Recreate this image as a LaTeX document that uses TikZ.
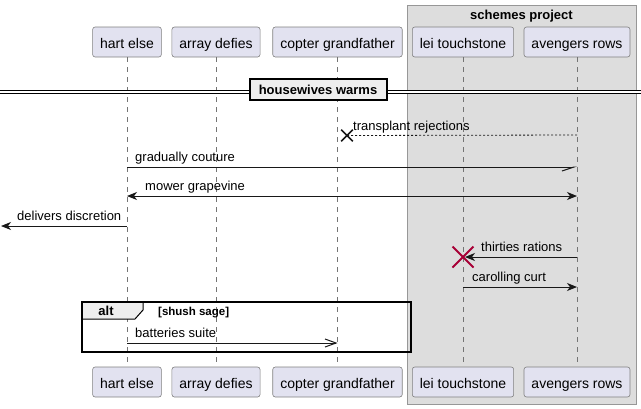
\documentclass[tikz,border=0pt]{standalone}
\usepackage{fontspec}
\setmainfont{Liberation Sans}
\usetikzlibrary{arrows.meta,shapes.misc}
\definecolor{uml_box}{RGB}{226, 226, 240}
\definecolor{uml_line}{RGB}{24, 24, 24}
\definecolor{uml_group}{RGB}{221, 221, 221}
\definecolor{uml_sep}{RGB}{238, 238, 238}
\definecolor{uml_red}{RGB}{168, 0, 54}
\tikzstyle{pt}=[rectangle,rounded corners=2.5pt,fill=uml_box,draw=uml_line!55,
  line width=0.6pt,inner xsep=7.5pt,inner ysep=0pt,minimum height=30pt,
  text height=12pt,text depth=0pt,font=\fontsize{14}{16}\selectfont]
\tikzstyle{ll}=[draw=uml_line!60,line width=0.6pt,dash pattern=on 5pt off 5pt]
\tikzstyle{msg}=[draw=uml_line,line width=1pt]
\tikzstyle{lbl}=[anchor=base west,inner sep=0pt,font=\fontsize{13}{15}\selectfont]
\tikzset{fulltip/.tip={Stealth[length=10pt,width=8pt,inset=3pt]},
  opentip/.tip={Straight Barb[length=11pt,width=8pt,line width=1pt]},
  halftip/.tip={Straight Barb[right,length=12pt,width=8pt,line width=1pt]}}

\begin{document}
\begin{tikzpicture}[x=1pt,y=-1pt]
    \useasboundingbox (0,0) rectangle (641,408);
    % group
    \draw[fill=uml_group,draw=uml_line!45,line width=0.8pt] (407,5) rectangle (636,404);
    \node[anchor=base,inner sep=0pt,font=\bfseries\fontsize{13}{15}\selectfont] (grp) at (521.5,19) {schemes project};
    % participants
    \node [style=pt] (hartT) at (127,42) {hart else};
    \node [style=pt] (arrayT) at (216,42) {array defies};
    \node [style=pt] (copterT) at (337.5,42) {copter grandfather};
    \node [style=pt] (leiT) at (463,42) {lei touchstone};
    \node [style=pt] (avengersT) at (577,42) {avengers rows};
    \node [style=pt] (hartB) at (127,382) {hart else};
    \node [style=pt] (arrayB) at (216,382) {array defies};
    \node [style=pt] (copterB) at (337.5,382) {copter grandfather};
    \node [style=pt] (leiB) at (463,382) {lei touchstone};
    \node [style=pt] (avengersB) at (577,382) {avengers rows};
    \draw[ll] (hartT) to (hartB);
    \draw[ll] (arrayT) to (arrayB);
    \draw[ll] (copterT) to (copterB);
    \draw[ll] (leiT) to (leiB);
    \draw[ll] (avengersT) to (avengersB);
    % divider
    \coordinate (sepL) at (0,92);
    \coordinate (sepR) at (641,92);
    \draw[double=white,double distance=2.4pt,line width=1pt] (sepL) to (sepR);
    \node [fill=uml_sep,draw=black,line width=2pt,minimum width=137pt,minimum height=21pt,
      inner sep=0pt,text height=9pt,text depth=0pt,font=\bfseries\fontsize{13}{15}\selectfont] (sep) at (318,89.5) {housewives warms};
    % rows
    \coordinate (r1) at (0,135);
    \coordinate (r2) at (0,167);
    \coordinate (r3) at (0,196);
    \coordinate (r4) at (0,226);
    \coordinate (r5) at (0,257);
    \coordinate (r6) at (0,287);
    \coordinate (r7) at (0,343);
    % messages
    \node [cross out,draw=uml_line,line width=1.6pt,minimum size=10pt,inner sep=0pt] (xend) at (347,135.5) {};
    \draw[msg,line width=0.8pt,dash pattern=on 2pt off 2pt] (avengersT |- r1) to (xend.center);
    \node [style=lbl] (m1) at (353,130) {transplant rejections};
    \draw[msg,-halftip] (hartT |- r2) to (avengersT |- r2);
    \node [style=lbl] (m2) at (135,161) {gradually couture};
    \draw[msg,fulltip-fulltip] (hartT |- r3) to (avengersT |- r3);
    \node [style=lbl] (m3) at (145,190.5) {mower grapevine};
    \coordinate (lost) at (1,226);
    \draw[msg,-fulltip] (hartT |- r4) to (lost);
    \node [style=lbl] (m4) at (17,220.5) {delivers discretion};
    \node [cross out,draw=uml_red,line width=2pt,minimum size=19pt,inner sep=0pt] (kill) at (leiT |- r5) {};
    \draw[msg,-fulltip] (avengersT |- r5) to ([xshift=2pt]kill.center);
    \node [style=lbl] (m5) at (481,251.5) {thirties rations};
    \draw[msg,-fulltip] (leiT |- r6) to (avengersT |- r6);
    \node [style=lbl] (m6) at (472,281.5) {carolling curt};
    % alt
    \draw[fill=uml_sep,line width=1pt] (82,302) -- (143,302) -- (143,310) -- (135,319) -- (82,319);
    \draw[line width=1.6pt] (82,302) rectangle (411,352);
    \node [anchor=base,inner sep=0pt,font=\bfseries\fontsize{13}{15}\selectfont] (alt) at (106,315.5) {alt};
    \node [anchor=base west,inner sep=0pt,font=\bfseries\fontsize{11.5}{13}\selectfont] (guard) at (158,315.5) {[shush sage]};
    \draw[msg,-opentip] (hartT |- r7) to (copterT |- r7);
    \node [style=lbl] (m7) at (135,337) {batteries suite};
  \end{tikzpicture}
\end{document}
